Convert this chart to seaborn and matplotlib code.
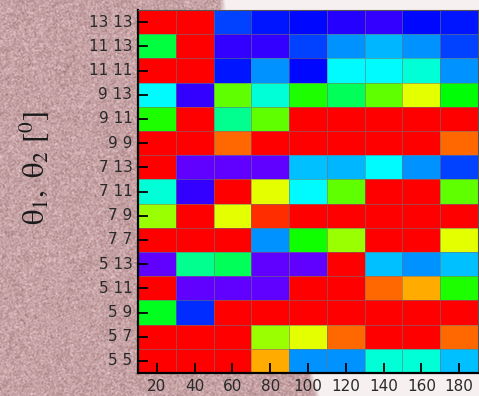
import colorsys

import matplotlib
matplotlib.use("Agg")
import matplotlib.pyplot as plt
from matplotlib.colors import ListedColormap
import numpy as np
import pandas as pd
import seaborn as sns

# Angle pairs (rows, top to bottom) and the swept parameter (columns)
pair_labels = ["13 13", "11 13", "11 11", "9 13", "9 11", "9 9", "7 13", "7 11",
               "7 9", "7 7", "5 13", "5 11", "5 9", "5 7", "5 5"]
sweep_values = [20, 40, 60, 80, 100, 120, 140, 160, 180]

# Score per cell (0 = violet ... 100 = red)
row_13_13 = [100, 100, 17, 13, 12, 8, 7, 12, 13]
row_11_13 = [50, 100, 7, 7, 17, 24, 27, 24, 17]
row_11_11 = [100, 100, 13, 24, 12, 33, 33, 37, 24]
row_9_13 = [33, 7, 64, 37, 58, 48, 64, 75, 55]
row_9_11 = [58, 100, 43, 64, 100, 100, 100, 100, 100]
row_9_9 = [100, 100, 91, 100, 100, 100, 100, 100, 91]
row_7_13 = [100, 3, 3, 3, 28, 27, 33, 24, 17]
row_7_11 = [37, 7, 100, 75, 33, 64, 100, 100, 64]
row_7_9 = [69, 100, 75, 96, 100, 100, 100, 100, 100]
row_7_7 = [100, 100, 100, 24, 57, 69, 100, 100, 75]
row_5_13 = [3, 43, 48, 3, 3, 100, 28, 24, 28]
row_5_11 = [100, 3, 3, 3, 100, 100, 91, 85, 58]
row_5_9 = [53, 15, 100, 100, 100, 100, 100, 100, 100]
row_5_7 = [100, 100, 100, 69, 75, 91, 100, 100, 91]
row_5_5 = [100, 100, 100, 85, 24, 24, 37, 37, 28]

rows = [row_13_13, row_11_13, row_11_11, row_9_13, row_9_11, row_9_9, row_7_13,
        row_7_11, row_7_9, row_7_7, row_5_13, row_5_11, row_5_9, row_5_7, row_5_5]
df = pd.DataFrame(rows, index=pair_labels, columns=sweep_values)

# Saturated rainbow: violet -> blue -> cyan -> green -> yellow -> red
hues = np.linspace(0.75, 0.0, 256)
cmap = ListedColormap([colorsys.hsv_to_rgb(h, 1.0, 1.0) for h in hues])

W, H = 479, 396
fig = plt.figure(figsize=(W / 100, H / 100), dpi=100)

# Speckled paper backdrop with a curved edge towards the right
rng = np.random.default_rng(7)
noise = rng.normal(0, 1, (H, W))
noise = (noise + np.roll(noise, 1, 0) + np.roll(noise, 1, 1) + np.roll(np.roll(noise, 1, 0), 1, 1)) / 4
pink = np.array([0.775, 0.635, 0.645])
tex = pink[None, None, :] + 0.075 * noise[..., None] * np.array([1.0, 1.15, 1.15])[None, None, :]
white = np.array([0.965, 0.945, 0.945])
yy, xx = np.mgrid[0:H, 0:W]
edge = 222 + 95 * (yy / H) ** 1.3
mask = np.clip((edge - xx) / 6 + 0.5, 0, 1)[..., None]
img = np.clip(mask * tex + (1 - mask) * white[None, None, :], 0, 1)

bg = fig.add_axes([0, 0, 1, 1], zorder=0)
bg.imshow(img, aspect="auto", interpolation="bilinear")
bg.axis("off")

ax = fig.add_axes([138 / W, 23 / H, 340 / W, 363 / H], zorder=1)
sns.heatmap(df, ax=ax, cmap=cmap, vmin=0, vmax=100, cbar=False,
            linewidths=0.6, linecolor=(0.45, 0.45, 0.45, 0.55))

for name, sp in ax.spines.items():
    sp.set_visible(True)
    if name in ("left", "bottom"):
        sp.set_color("black")
        sp.set_linewidth(1.6)
    else:
        sp.set_color("#555555")
        sp.set_linewidth(0.8)

ax.tick_params(axis="both", direction="in", length=7, width=1.3, color="black",
               labelcolor="#2a2a2a", labelsize=11, pad=4)
ax.set_yticklabels(pair_labels, rotation=0)
ax.set_xticklabels([str(v) for v in sweep_values], rotation=0)
ax.set_xlabel("")
ax.set_ylabel("")

plt.rcParams["mathtext.fontset"] = "stix"
fig.text(35 / W, 1 - 168 / H, r"$\mathrm{\theta_{1},\ \theta_{2}\ [^{0}]}$", rotation=90,
         ha="center", va="center", fontsize=22, color="#1a1a1a",
         family="STIXGeneral")

fig.savefig("out.png", dpi=100)
